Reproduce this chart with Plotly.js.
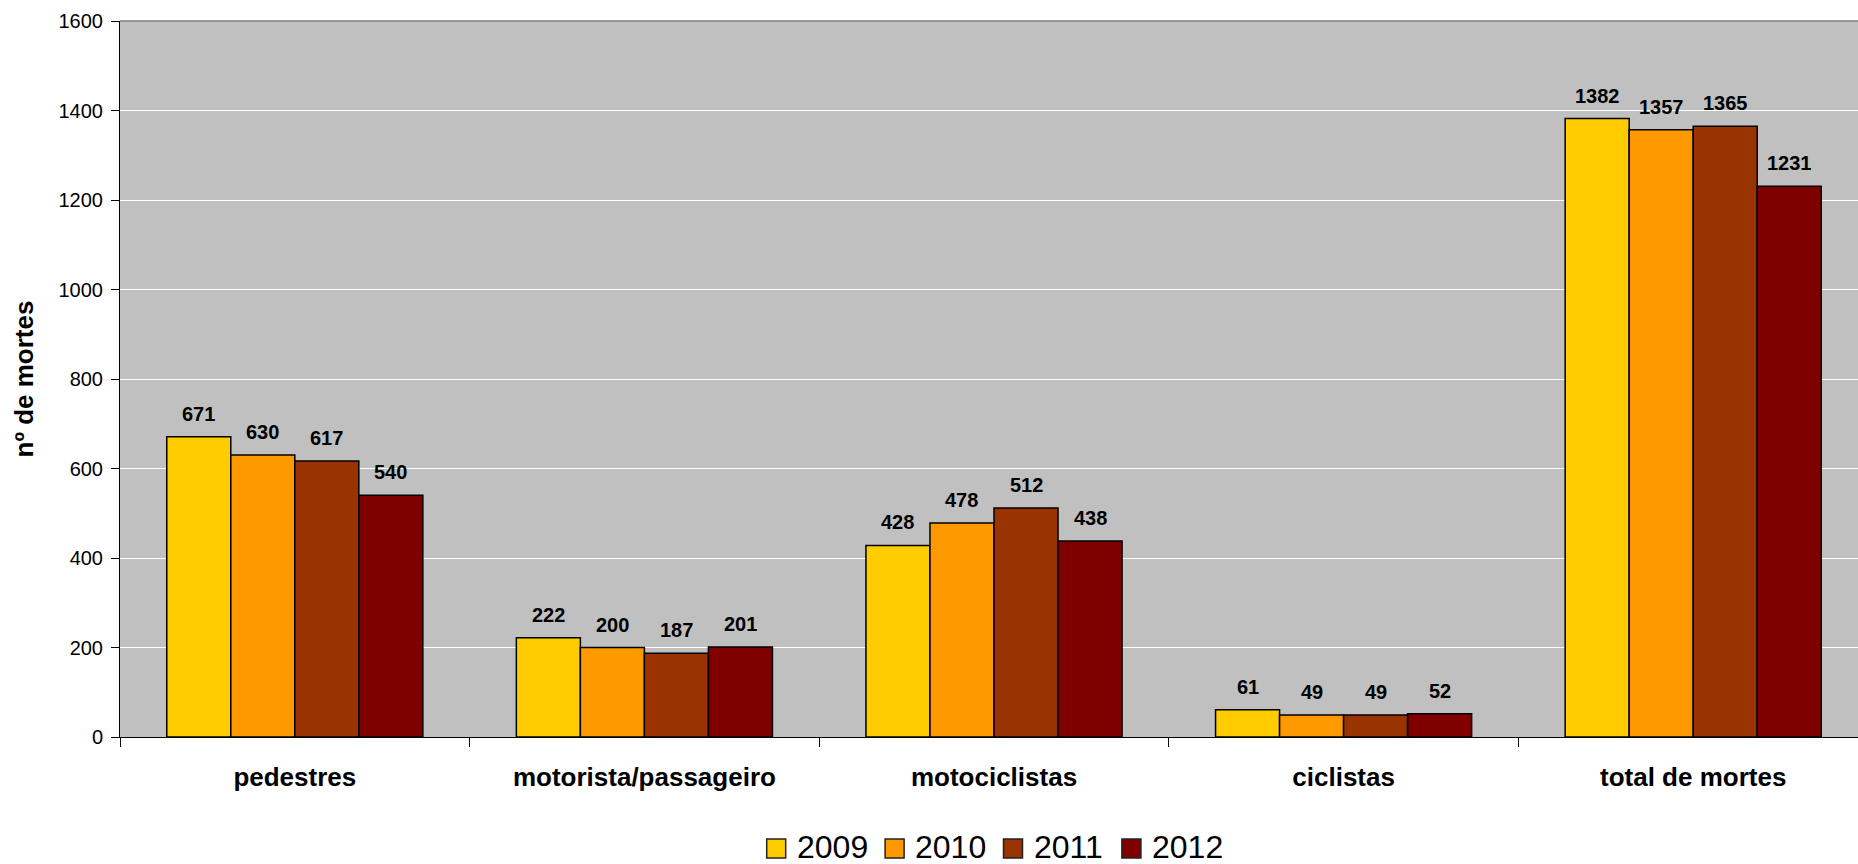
<!DOCTYPE html>
<html>
<head>
<meta charset="utf-8">
<script src="https://cdn.plot.ly/plotly-3.0.1.min.js"></script>
<style>
html,body{margin:0;padding:0;overflow:hidden;background:#fff;}
#chart{width:1868px;height:864px;}
</style>
</head>
<body>
<div id="chart"></div>
<script>
const categories = ["pedestres", "motorista/passageiro", "motociclistas", "ciclistas", "total de mortes"];
const years = ["2009", "2010", "2011", "2012"];
const v2009 = [671, 222, 428, 61, 1382];
const v2010 = [630, 200, 478, 49, 1357];
const v2011 = [617, 187, 512, 49, 1365];
const v2012 = [540, 201, 438, 52, 1231];
const yTicks = [0, 200, 400, 600, 800, 1000, 1200, 1400, 1600];

const series = [v2009, v2010, v2011, v2012];
const colors = ["#FFCC00", "#FF9900", "#993300", "#800000"];
const FONT = "Liberation Sans, Arial, sans-serif";

// figure geometry (pixels)
const W = 1868, H = 864;
const M = {l: 120, r: 0, t: 21, b: 127};
const plotW = W - M.l - M.r, plotH = H - M.t - M.b;
const BARGAP = 0.2675;
const catW = plotW / categories.length;
const barW = catW * (1 - BARGAP) / series.length;
const pxX = px => (px - M.l) / plotW;
const pxY = py => (H - M.b - py) / plotH;

const traces = series.map((vals, i) => ({
  type: "bar",
  name: years[i],
  x: categories,
  y: vals,
  marker: {color: colors[i], line: {color: "#000", width: 1.5}},
  hoverinfo: "x+y+name",
  showlegend: false
}));

// value labels above each bar
const annotations = [];
series.forEach((vals, i) => {
  vals.forEach((v, j) => {
    annotations.push({
      x: categories[j], y: v, xref: "x", yref: "y",
      text: String(v), showarrow: false,
      xanchor: "center", yanchor: "bottom",
      xshift: (i - (series.length - 1) / 2) * barW,
      yshift: 10,
      font: {family: FONT, size: 20, color: "#000", weight: "bold"}
    });
  });
});

// custom legend (larger swatches like the original)
const shapes = [{
  type: "line", xref: "paper", yref: "paper",
  x0: 0, x1: 1, y0: 1, y1: 1,
  line: {color: "#808080", width: 1.5},
  layer: "above"
}];
const legStart = 766.7, legStep = 118.4, sw = 19, legTop = 839;
years.forEach((yr, i) => {
  const x0 = legStart + i * legStep;
  shapes.push({
    type: "rect", xref: "paper", yref: "paper",
    x0: pxX(x0), x1: pxX(x0 + sw), y0: pxY(legTop + sw), y1: pxY(legTop),
    fillcolor: colors[i], line: {color: "#222", width: 1.5}
  });
  annotations.push({
    xref: "paper", yref: "paper",
    x: pxX(x0 + 28), y: pxY(846.5),
    xanchor: "left", yanchor: "middle",
    text: yr, showarrow: false,
    font: {family: FONT, size: 32, color: "#000"}
  });
});

const layout = {
  width: W,
  height: H,
  margin: {l: M.l, r: M.r, t: M.t, b: M.b, pad: 0, autoexpand: false},
  paper_bgcolor: "#ffffff",
  plot_bgcolor: "#C0C0C0",
  barmode: "group",
  bargap: BARGAP,
  bargroupgap: 0,
  font: {family: FONT, color: "#000"},
  showlegend: false,
  xaxis: {
    type: "category",
    tickson: "boundaries",
    ticks: "outside",
    ticklen: 9,
    tickcolor: "#000",
    tickwidth: 1,
    showline: true,
    linecolor: "#000",
    linewidth: 1,
    showgrid: false,
    zeroline: false,
    automargin: false,
    ticklabelstandoff: 17,
    tickfont: {family: FONT, size: 26, color: "#000", weight: "bold"}
  },
  yaxis: {
    range: [0, 1600],
    tickvals: yTicks,
    ticktext: yTicks.map(String),
    ticks: "outside",
    ticklen: 8,
    tickcolor: "#000",
    tickwidth: 1,
    showline: true,
    linecolor: "#000",
    linewidth: 1,
    showgrid: true,
    gridcolor: "#ffffff",
    gridwidth: 1,
    zeroline: false,
    automargin: false,
    ticklabelstandoff: 4,
    tickfont: {family: FONT, size: 20, color: "#000"},
    title: {
      text: "nº de mortes",
      standoff: 17,
      font: {family: FONT, size: 26, color: "#000", weight: "bold"}
    }
  },
  shapes: shapes,
  annotations: annotations
};

Plotly.newPlot("chart", traces, layout, {displayModeBar: false});
</script>
</body>
</html>
